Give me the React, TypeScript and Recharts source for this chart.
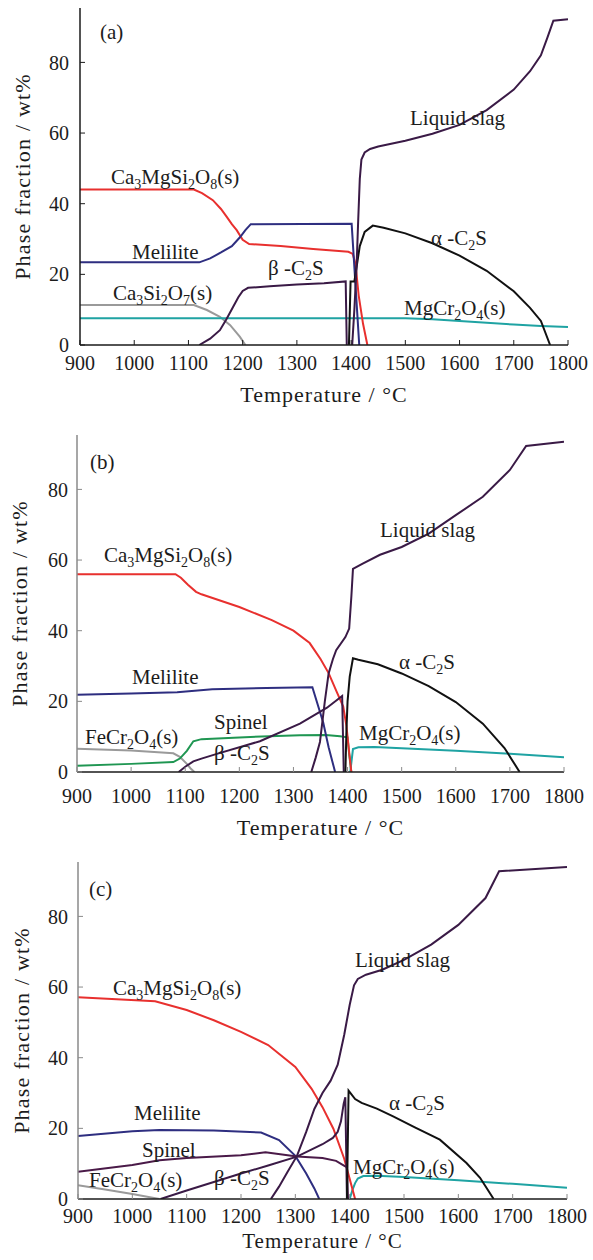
import React from 'react';
import { LineChart, Line, XAxis, YAxis } from 'recharts';

// ---------- shared axis values ----------
const tempTicks = [900, 1000, 1100, 1200, 1300, 1400, 1500, 1600, 1700, 1800];
const fracTicks = [0, 20, 40, 60, 80];
const tempDomain = [900, 1800];
const fracDomain = [0, 95.4];

// ---------- panel (a) ----------
const aCa3MgSi2O8T = [900, 1110, 1125, 1145, 1160, 1171, 1180, 1189, 1200, 1212, 1270, 1330, 1395, 1403, 1408, 1414, 1422, 1430];
const aCa3MgSi2O8V = [44, 44, 43, 41, 38.5, 36.2, 34.2, 32.5, 29.8, 28.6, 28, 27.2, 26.4, 25.8, 23, 14, 6, 0];
const aMeliliteT = [900, 1120, 1140, 1160, 1180, 1195, 1205, 1215, 1401, 1415];
const aMeliliteV = [23.4, 23.4, 24.5, 26.2, 28, 30.5, 32.5, 34.2, 34.3, 0];
const aCa3Si2O7T = [900, 1110, 1134, 1158, 1177, 1195, 1205];
const aCa3Si2O7V = [11.3, 11.3, 9.9, 8, 5.6, 2.3, 0];
const aMgCr2O4T = [900, 1500, 1550, 1600, 1650, 1700, 1750, 1800];
const aMgCr2O4V = [7.6, 7.6, 7.3, 6.8, 6.3, 5.8, 5.4, 5.1];
const aBetaT = [1120, 1140, 1158, 1170, 1182, 1192, 1200, 1210, 1250, 1300, 1350, 1390, 1392];
const aBetaV = [0, 1.8, 4.2, 7.3, 10.7, 13.5, 15.3, 16.2, 16.6, 17.1, 17.5, 18, 0];
const aAlphaT = [1396, 1399, 1406, 1410, 1416, 1425, 1440, 1460, 1500, 1550, 1600, 1650, 1700, 1730, 1750, 1767];
const aAlphaV = [0, 18, 18, 22, 28, 32, 33.8, 33.2, 31.6, 28.8, 25.3, 21, 15.2, 10.5, 6.8, 0];
const aLiquidT = [1402, 1406, 1410, 1413, 1416, 1419, 1425, 1435, 1450, 1500, 1550, 1600, 1650, 1700, 1730, 1750, 1762, 1773, 1800];
const aLiquidV = [0, 10, 22, 35, 47, 52.5, 54.5, 55.5, 56.2, 57.8, 59.8, 62.3, 66.5, 72.3, 77.5, 82, 87, 91.8, 92.2];

// ---------- panel (b) ----------
const bCa3MgSi2O8T = [900, 1082, 1092, 1105, 1120, 1130, 1200, 1260, 1300, 1330, 1350, 1365, 1380, 1392, 1398, 1402, 1407];
const bCa3MgSi2O8V = [56, 56, 55, 53, 51, 50.3, 46.7, 43, 40, 36.5, 32, 28, 22.7, 18.5, 13, 7, 0];
const bMeliliteT = [900, 1000, 1085, 1150, 1250, 1335, 1355, 1365, 1377];
const bMeliliteV = [21.9, 22.2, 22.6, 23.4, 23.8, 24, 14, 7, 0];
const bSpinelT = [900, 1000, 1078, 1090, 1103, 1115, 1130, 1200, 1312, 1360, 1386, 1400, 1403, 1407];
const bSpinelV = [1.8, 2.3, 2.8, 3.8, 6, 8.7, 9.3, 9.8, 10.4, 10.5, 10.1, 9.8, 5, 0];
const bFeCr2O4T = [900, 1000, 1078, 1090, 1103, 1110, 1117];
const bFeCr2O4V = [6.6, 6.1, 5.3, 4.3, 2.3, 1, 0];
const bMgCr2O4T = [1405, 1410, 1420, 1450, 1500, 1600, 1700, 1800];
const bMgCr2O4V = [0, 6.5, 7, 7.1, 6.7, 6, 5.2, 4.2];
const bBetaT = [1088, 1100, 1115, 1130, 1160, 1238, 1312, 1362, 1390, 1393];
const bBetaV = [0, 1.5, 3, 3.8, 5.2, 8.7, 13.7, 18.2, 21.5, 0];
const bAlphaT = [1396, 1398, 1400, 1404, 1410, 1420, 1456, 1500, 1550, 1600, 1650, 1690, 1718];
const bAlphaV = [0, 12, 20, 27, 32.2, 31.8, 30.5, 27.9, 24.3, 19.8, 13.7, 6.8, 0];
const bLiquidT = [1333, 1341, 1349, 1358, 1365, 1373, 1379, 1396, 1403, 1407, 1410, 1428, 1460, 1500, 1550, 1600, 1650, 1700, 1730, 1800];
const bLiquidV = [0, 4, 8.5, 20, 27.9, 32, 34.5, 38.2, 40.6, 49.6, 57.5, 59, 61.5, 63.7, 67.5, 72.7, 77.9, 85.5, 92.3, 93.5];

// ---------- panel (c) ----------
const cCa3MgSi2O8T = [900, 1042, 1100, 1150, 1200, 1250, 1300, 1330, 1350, 1370, 1390, 1400, 1410];
const cCa3MgSi2O8V = [57.1, 56, 53.5, 50.6, 47.3, 43.6, 37.4, 31.2, 26, 19.9, 11.4, 5.7, 0];
const cMeliliteT = [900, 1000, 1050, 1150, 1237, 1270, 1300, 1320, 1335, 1344];
const cMeliliteV = [17.8, 19.2, 19.5, 19.4, 18.8, 16.7, 12.2, 7.2, 3, 0];
const cSpinelT = [900, 1000, 1050, 1100, 1200, 1245, 1303, 1350, 1375, 1391, 1395, 1397];
const cSpinelV = [7.7, 9.6, 11, 11.6, 12.4, 13.2, 12, 11.6, 10.8, 9.3, 9, 0];
const cFeCr2O4T = [900, 950, 1000, 1050];
const cFeCr2O4V = [3.9, 2.7, 1.4, 0];
const cMgCr2O4T = [1400, 1405, 1410, 1415, 1425, 1450, 1500, 1600, 1700, 1800];
const cMgCr2O4V = [0, 2.5, 4.5, 5.8, 6.5, 6.6, 6.2, 5.3, 4.3, 3.2];
const cBetaT = [1052, 1100, 1150, 1200, 1250, 1303, 1350, 1369, 1378, 1384, 1389, 1392, 1395];
const cBetaV = [0, 2.4, 4.8, 7.2, 9.5, 12, 15.5, 17.3, 19, 22, 27, 28.8, 0];
const cAlphaT = [1395, 1398, 1410, 1422, 1450, 1480, 1520, 1566, 1615, 1640, 1665];
const cAlphaV = [0, 30.7, 28.3, 27.2, 25.6, 23.4, 20.3, 16.8, 10.2, 6, 0];
const cLiquidT = [1255, 1270, 1285, 1303, 1320, 1335, 1350, 1365, 1378, 1390, 1400, 1408, 1415, 1430, 1460, 1500, 1550, 1600, 1650, 1675, 1800];
const cLiquidV = [0, 3.5, 7.5, 12.2, 19, 25.5, 30, 33.5, 38, 46.5, 54.9, 60.5, 62.3, 63.5, 64.9, 67.7, 72, 77.6, 85.2, 92.8, 94];

// ---------- label texts ----------
const nameCa3MgSi2O8 = 'Ca3MgSi2O8(s)';
const nameCa3Si2O7 = 'Ca3Si2O7(s)';
const nameMgCr2O4 = 'MgCr2O4(s)';
const nameFeCr2O4 = 'FeCr2O4(s)';
const nameMelilite = 'Melilite';
const nameSpinel = 'Spinel';
const nameBeta = 'β -C2S';
const nameAlpha = 'α -C2S';
const nameLiquid = 'Liquid slag';
const xTitle = 'Temperature / °C';
const yTitle = 'Phase fraction / wt%';

// ---------- colours ----------
const RED = '#e8302e';
const NAVY = '#2e2e80';
const GREY = '#9a9a9a';
const TEAL = '#1fa3a3';
const PURPLE = '#3a1a46';
const BLACK = '#111111';
const GREEN = '#1f9652';
const MAGENTA = '#4a1a48';
const FONT = 'Liberation Serif, Times New Roman, serif';
const TEXT = '#1c1c1c';

const zip = (t: number[], v: number[]) => t.map((x, i) => ({ t: x, v: v[i] }));

type Series = { key: string; t: number[]; v: number[]; color: string };
type Note = { text: string; x: number; y: number };
type PanelCfg = {
  top: number; left: number; right: number; frame: string;
  xTickMargin: number; yTickMargin: number; yLabelX: number; xLabelY: number; xLabelSize: number;
  series: Series[]; notes: Note[];
};

const panels: PanelCfg[] = [
  {
    top: 0, left: 80, right: 568, frame: '#1a1a1a', xTickMargin: 16, yTickMargin: 16, yLabelX: 22, xLabelY: 402, xLabelSize: 22,
    series: [
      { key: 'a1', t: aCa3Si2O7T, v: aCa3Si2O7V, color: GREY },
      { key: 'a2', t: aMgCr2O4T, v: aMgCr2O4V, color: TEAL },
      { key: 'a3', t: aCa3MgSi2O8T, v: aCa3MgSi2O8V, color: RED },
      { key: 'a4', t: aMeliliteT, v: aMeliliteV, color: NAVY },
      { key: 'a5', t: aBetaT, v: aBetaV, color: PURPLE },
      { key: 'a6', t: aAlphaT, v: aAlphaV, color: BLACK },
      { key: 'a7', t: aLiquidT, v: aLiquidV, color: PURPLE },
    ],
    notes: [
      { text: '(a)', x: 100, y: 39 },
      { text: nameCa3MgSi2O8, x: 111, y: 184 },
      { text: nameMelilite, x: 132, y: 259 },
      { text: nameBeta, x: 268, y: 275 },
      { text: nameCa3Si2O7, x: 113, y: 300 },
      { text: nameLiquid, x: 410, y: 125 },
      { text: nameAlpha, x: 431, y: 245 },
      { text: nameMgCr2O4, x: 404, y: 315 },
    ],
  },
  {
    top: 427, left: 77, right: 564, frame: '#8a8a8a', xTickMargin: 22, yTickMargin: 14, yLabelX: 19, xLabelY: 408, xLabelSize: 22,
    series: [
      { key: 'b1', t: bFeCr2O4T, v: bFeCr2O4V, color: GREY },
      { key: 'b2', t: bSpinelT, v: bSpinelV, color: GREEN },
      { key: 'b3', t: bMgCr2O4T, v: bMgCr2O4V, color: TEAL },
      { key: 'b4', t: bCa3MgSi2O8T, v: bCa3MgSi2O8V, color: RED },
      { key: 'b5', t: bMeliliteT, v: bMeliliteV, color: NAVY },
      { key: 'b6', t: bBetaT, v: bBetaV, color: PURPLE },
      { key: 'b7', t: bAlphaT, v: bAlphaV, color: BLACK },
      { key: 'b8', t: bLiquidT, v: bLiquidV, color: PURPLE },
    ],
    notes: [
      { text: '(b)', x: 90, y: 42 },
      { text: nameCa3MgSi2O8, x: 104, y: 135 },
      { text: nameLiquid, x: 380, y: 110 },
      { text: nameMelilite, x: 132, y: 257 },
      { text: nameAlpha, x: 399, y: 242 },
      { text: nameSpinel, x: 214, y: 302 },
      { text: nameFeCr2O4, x: 85, y: 317 },
      { text: nameMgCr2O4, x: 359, y: 313 },
      { text: nameBeta, x: 214, y: 333 },
    ],
  },
  {
    top: 854, left: 78, right: 567, frame: '#8a8a8a', xTickMargin: 15, yTickMargin: 15, yLabelX: 21, xLabelY: 394, xLabelSize: 21,
    series: [
      { key: 'c1', t: cFeCr2O4T, v: cFeCr2O4V, color: GREY },
      { key: 'c2', t: cMgCr2O4T, v: cMgCr2O4V, color: TEAL },
      { key: 'c3', t: cCa3MgSi2O8T, v: cCa3MgSi2O8V, color: RED },
      { key: 'c4', t: cMeliliteT, v: cMeliliteV, color: NAVY },
      { key: 'c5', t: cSpinelT, v: cSpinelV, color: MAGENTA },
      { key: 'c6', t: cBetaT, v: cBetaV, color: PURPLE },
      { key: 'c7', t: cAlphaT, v: cAlphaV, color: BLACK },
      { key: 'c8', t: cLiquidT, v: cLiquidV, color: PURPLE },
    ],
    notes: [
      { text: '(c)', x: 89, y: 42 },
      { text: nameLiquid, x: 355, y: 113 },
      { text: nameCa3MgSi2O8, x: 113, y: 141 },
      { text: nameMelilite, x: 134, y: 266 },
      { text: nameAlpha, x: 389, y: 256 },
      { text: nameSpinel, x: 142, y: 303 },
      { text: nameMgCr2O4, x: 353, y: 320 },
      { text: nameFeCr2O4, x: 89, y: 333 },
      { text: nameBeta, x: 214, y: 331 },
    ],
  },
];

const W = 593;
const H = 406;
const PLOT_TOP = 8;
const PLOT_BOTTOM = 345;

function Chem({ text, x, y }: Note) {
  // digits are rendered as subscripts
  const parts: { s: string; sub: boolean }[] = [];
  for (const ch of text) {
    const sub = /[0-9]/.test(ch);
    const last = parts[parts.length - 1];
    if (last && last.sub === sub) last.s += ch;
    else parts.push({ s: ch, sub });
  }
  let prevSub = false;
  return (
    <text x={x} y={y} fontFamily={FONT} fontSize={21} fill={TEXT} style={{ fontFamily: FONT }}>
      {parts.map((p, i) => {
        const dy = p.sub && !prevSub ? 5 : !p.sub && prevSub ? -5 : 0;
        prevSub = p.sub;
        return (
          <tspan key={i} dy={dy} fontSize={p.sub ? 14 : 21}>
            {p.s}
          </tspan>
        );
      })}
    </text>
  );
}

function Panel({ cfg }: { cfg: PanelCfg }) {
  const plotCx = (cfg.left + cfg.right) / 2;
  const plotCy = (PLOT_TOP + PLOT_BOTTOM) / 2;
  const tickStyle = { fontSize: 20, fontFamily: FONT, fill: TEXT, style: { fontFamily: FONT } };
  return (
    <div style={{ position: 'absolute', left: 0, top: cfg.top, width: W, height: H }}>
      <LineChart
        width={W}
        height={H}
        margin={{ top: PLOT_TOP, right: W - cfg.right, left: 0, bottom: 0 }}
      >
        <XAxis
          dataKey="t"
          type="number"
          domain={tempDomain}
          ticks={tempTicks}
          allowDataOverflow
          height={H - PLOT_BOTTOM}
          tickSize={-5}
          tickMargin={cfg.xTickMargin}
          axisLine={{ stroke: '#1a1a1a', strokeWidth: 1.5 }}
          tickLine={{ stroke: cfg.frame }}
          tick={tickStyle}
          interval={0}
        />
        <XAxis
          xAxisId="top"
          orientation="top"
          type="number"
          domain={tempDomain}
          height={0}
          tick={false}
          tickLine={false}
          axisLine={{ stroke: cfg.frame, strokeWidth: 1.5 }}
        />
        <YAxis
          type="number"
          domain={fracDomain}
          ticks={fracTicks}
          allowDataOverflow
          width={cfg.left}
          tickSize={-5}
          tickMargin={cfg.yTickMargin}
          axisLine={{ stroke: cfg.frame, strokeWidth: 1.5 }}
          tickLine={{ stroke: cfg.frame }}
          tick={tickStyle}
          interval={0}
        />
        <YAxis
          yAxisId="right"
          orientation="right"
          type="number"
          domain={fracDomain}
          width={0}
          tick={false}
          tickLine={false}
          axisLine={{ stroke: cfg.frame, strokeWidth: 1.5 }}
        />
        {cfg.series.map((s) => (
          <Line
            key={s.key}
            data={zip(s.t, s.v)}
            dataKey="v"
            type="linear"
            stroke={s.color}
            strokeWidth={2}
            dot={false}
            activeDot={false}
            isAnimationActive={false}
          />
        ))}
      </LineChart>
      <svg
        width={W}
        height={H + 20}
        style={{ position: 'absolute', left: 0, top: 0, pointerEvents: 'none', overflow: 'visible' }}
      >
        {cfg.notes.map((n, i) => (
          <Chem key={i} {...n} />
        ))}
        <text
          x={plotCx}
          y={cfg.xLabelY}
          textAnchor="middle"
          fontFamily={FONT}
          fontSize={cfg.xLabelSize}
          letterSpacing={1}
          fill={TEXT}
          style={{ fontFamily: FONT }}
        >
          {xTitle}
        </text>
        <text
          transform={`translate(${cfg.yLabelX},${plotCy}) rotate(-90)`}
          textAnchor="middle"
          dominantBaseline="central"
          fontFamily={FONT}
          fontSize={22}
          letterSpacing={1.2}
          fill={TEXT}
          style={{ fontFamily: FONT }}
        >
          {yTitle}
        </text>
      </svg>
    </div>
  );
}

export default function App() {
  return (
    <div
      style={{
        position: 'absolute',
        left: 0,
        top: 0,
        width: W,
        height: 1260,
        background: '#ffffff',
        overflow: 'hidden',
      }}
    >
      {panels.map((p, i) => (
        <Panel key={i} cfg={p} />
      ))}
    </div>
  );
}
